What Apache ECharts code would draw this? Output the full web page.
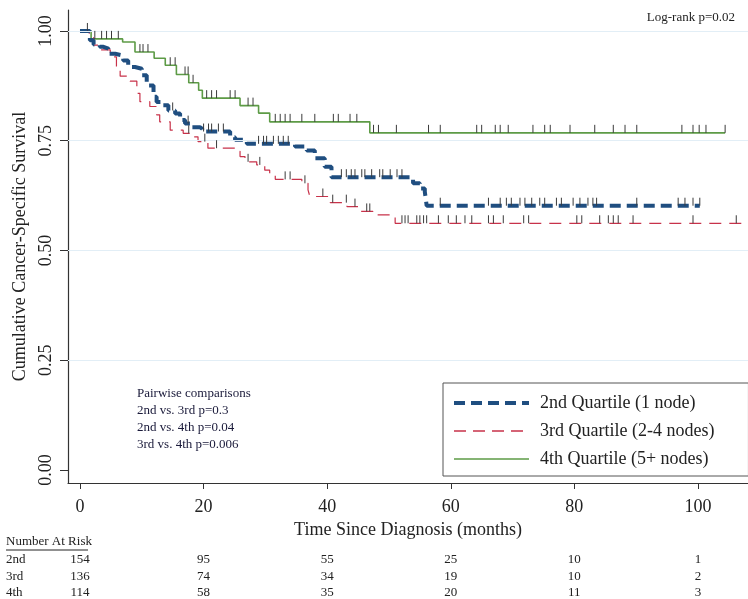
<!DOCTYPE html>
<html>
<head>
<meta charset="utf-8">
<script src="https://cdn.jsdelivr.net/npm/echarts@6/dist/echarts.min.js"></script>
<style>
  html, body { margin: 0; padding: 0; background: #fff; }
  #kmChart { width: 748px; height: 599px; }
</style>
</head>
<body>
<div id="kmChart"></div>
<script>
// step times (months) and survival after each step, last entry = end of follow-up
const q2Times = [0, 1.6, 2.2, 3.2, 3.8, 4.6, 5.7, 7.0, 7.8, 8.9, 10.0, 10.8, 11.9, 12.4, 13.2, 14.3, 15.4, 16.2, 17.0, 17.8, 19.4, 19.8, 24.3, 25.1, 27.0, 34.8, 36.7, 38.0, 39.6, 40.7, 53.9, 55.0, 55.8, 56.1, 100.3];
const q2Surv = [1, 0.979, 0.969, 0.964, 0.960, 0.948, 0.944, 0.933, 0.918, 0.914, 0.899, 0.876, 0.850, 0.838, 0.831, 0.819, 0.812, 0.797, 0.789, 0.781, 0.777, 0.771, 0.758, 0.752, 0.743, 0.737, 0.728, 0.710, 0.691, 0.667, 0.653, 0.641, 0.634, 0.602, 0.602];
const q3Times = [0, 1.5, 2.2, 3.2, 4.9, 5.9, 6.5, 8.1, 9.2, 9.7, 11.3, 12.4, 12.9, 14.6, 16.7, 17.8, 19.1, 20.7, 25.1, 25.9, 26.7, 28.6, 29.9, 30.7, 31.6, 35.9, 36.9, 37.2, 40.5, 43.2, 45.3, 47.4, 51.0, 107.6];
const q3Surv = [1, 0.985, 0.968, 0.957, 0.941, 0.915, 0.897, 0.886, 0.858, 0.839, 0.828, 0.809, 0.793, 0.774, 0.767, 0.759, 0.748, 0.733, 0.726, 0.714, 0.702, 0.695, 0.683, 0.672, 0.662, 0.653, 0.638, 0.623, 0.609, 0.600, 0.589, 0.581, 0.562, 0.562];
const q4Times = [0, 1.8, 6.9, 8.9, 12.0, 13.8, 15.6, 17.6, 19.2, 19.8, 25.9, 28.9, 30.7, 46.9, 104.4];
const q4Surv = [1, 0.982, 0.975, 0.952, 0.938, 0.922, 0.901, 0.882, 0.865, 0.847, 0.830, 0.813, 0.793, 0.768, 0.768];

// censoring times
const q2Censor = [15.0, 17.5, 20.0, 20.8, 21.3, 22.4, 23.2, 28.9, 29.7, 30.2, 31.3, 32.1, 32.9, 33.7, 42.3, 43.1, 43.9, 44.5, 45.6, 46.1, 47.2, 48.5, 49.0, 50.2, 51.3, 52.1, 58.3, 66.1, 68.0, 69.0, 69.8, 71.2, 72.0, 73.1, 74.4, 75.2, 77.1, 77.9, 79.8, 80.9, 82.2, 83.0, 83.6, 90.1, 96.8, 97.9, 99.2, 100.3];
const q3Censor = [17.6, 20.2, 22.1, 27.2, 29.1, 33.2, 34.0, 36.4, 39.3, 40.9, 43.1, 44.5, 46.4, 46.9, 52.1, 52.6, 53.1, 54.5, 55.0, 55.6, 56.1, 58.0, 59.6, 60.9, 62.3, 63.4, 66.1, 66.9, 68.5, 71.8, 72.6, 80.4, 81.2, 84.1, 85.5, 86.3, 87.1, 89.5, 99.2, 106.2];
const q4Censor = [1.2, 2.4, 3.5, 4.3, 5.1, 6.2, 9.7, 10.2, 11.0, 14.6, 15.4, 17.0, 17.5, 18.3, 20.5, 21.3, 22.1, 24.3, 25.1, 27.2, 28.0, 31.6, 32.4, 33.2, 34.0, 35.9, 38.0, 41.0, 41.8, 43.7, 44.8, 47.5, 48.3, 51.2, 56.4, 58.3, 64.2, 65.0, 67.2, 68.0, 69.3, 73.3, 75.2, 76.1, 79.3, 83.3, 86.3, 88.2, 90.1, 97.4, 99.2, 100.2, 101.3, 104.4];

const seriesNames = ["2nd Quartile (1 node)", "3rd Quartile (2-4 nodes)", "4th Quartile (5+ nodes)"];
const xTicks = [0, 20, 40, 60, 80, 100];
const yTicks = [0, 0.25, 0.5, 0.75, 1];

// number at risk table
const riskMonths = [0, 20, 40, 60, 80, 100];
const riskLabels = ["2nd", "3rd", "4th"];
const riskQ2 = [154, 95, 55, 25, 10, 1];
const riskQ3 = [136, 74, 34, 19, 10, 2];
const riskQ4 = [114, 58, 35, 20, 11, 3];

const pairwiseLines = ["Pairwise comparisons", "2nd vs. 3rd p=0.3", "2nd vs. 4th p=0.04", "3rd vs. 4th p=0.006"];

const serif = '"Liberation Serif", "DejaVu Serif", serif';
const q2Color = "#1f4e80";
const q3Color = "#c8324a";
const q4Color = "#5d9b46";

function toSteps(times, surv) {
  return times.map((t, i) => [t, surv[i]]);
}
function survAt(times, surv, t) {
  let v = surv[0];
  for (let i = 0; i < times.length; i++) {
    if (times[i] <= t) v = surv[i];
  }
  return v;
}
function censorData(cens, times, surv) {
  return cens.map(t => [t, survAt(times, surv, t)]);
}
function censorSeries(data) {
  return {
    type: "custom",
    data: data,
    z: 5,
    silent: true,
    renderItem: function (params, api) {
      let p = api.coord([api.value(0), api.value(1)]);
      return {
        type: "line",
        shape: { x1: p[0], y1: p[1], x2: p[0], y2: p[1] - 8 },
        style: { stroke: "#3a3a3a", lineWidth: 1 }
      };
    }
  };
}

let kmChart = echarts.init(document.getElementById("kmChart"));
kmChart.setOption({
  backgroundColor: "#fff",
  animation: false,
  grid: { left: 68, right: 0, top: 10, bottom: 116 },
  legend: {
    data: [
      { name: seriesNames[0], lineStyle: { width: 4, type: [11, 6], color: q2Color } },
      { name: seriesNames[1], lineStyle: { width: 1.5, type: [12, 7], color: q3Color } },
      { name: seriesNames[2], lineStyle: { width: 1.6, type: "solid", color: q4Color } }
    ],
    orient: "vertical",
    left: 443,
    top: 383,
    padding: [11, 34, 8, 9],
    itemWidth: 75,
    itemHeight: 14,
    itemGap: 10,
    borderColor: "#555",
    borderWidth: 1,
    backgroundColor: "#fff",
    selectedMode: false,
    itemStyle: { opacity: 0 },
    textStyle: { fontFamily: serif, fontSize: 18, color: "#222", padding: [0, 0, 0, 6] }
  },
  xAxis: {
    type: "value",
    min: -1.94,
    max: 108.1,
    name: "Time Since Diagnosis (months)",
    nameLocation: "middle",
    nameGap: 33,
    nameTextStyle: { fontFamily: serif, fontSize: 18, color: "#222" },
    axisLine: { show: true, onZero: false, lineStyle: { color: "#333", width: 1.2 } },
    axisTick: { show: true, length: 6, customValues: xTicks, lineStyle: { color: "#333" } },
    axisLabel: { customValues: xTicks, margin: 15, fontFamily: serif, fontSize: 18, color: "#222" },
    splitLine: { show: false }
  },
  yAxis: {
    type: "value",
    min: -0.0296,
    max: 1.0478,
    name: "Cumulative Cancer-Specific Survival",
    nameLocation: "middle",
    nameGap: 35,
    nameTextStyle: { fontFamily: serif, fontSize: 18, color: "#222" },
    axisLine: { show: true, onZero: false, lineStyle: { color: "#333", width: 1.2 } },
    axisTick: { show: true, length: 8, customValues: yTicks, lineStyle: { color: "#333" } },
    axisLabel: {
      customValues: yTicks,
      rotate: 90,
      margin: 13,
      fontFamily: serif,
      fontSize: 18,
      color: "#222",
      formatter: v => v.toFixed(2)
    },
    splitLine: { show: false }
  },
  series: [
    {
      name: seriesNames[2],
      type: "line",
      step: "end",
      symbol: "none",
      z: 2,
      data: toSteps(q4Times, q4Surv),
      color: q4Color,
      lineStyle: { color: q4Color, width: 1.6, type: "solid" },
      markLine: {
        silent: true,
        symbol: "none",
        label: { show: false },
        lineStyle: { color: "#e2eef6", width: 1, type: "solid" },
        data: yTicks.filter(v => v > 0).map(v => ({ yAxis: v }))
      }
    },
    {
      name: seriesNames[1],
      type: "line",
      step: "end",
      symbol: "none",
      z: 3,
      data: toSteps(q3Times, q3Surv),
      color: q3Color,
      lineStyle: { color: q3Color, width: 1.2, type: [12, 8] }
    },
    {
      name: seriesNames[0],
      type: "line",
      step: "end",
      symbol: "none",
      z: 4,
      data: toSteps(q2Times, q2Surv),
      color: q2Color,
      lineStyle: { color: q2Color, width: 4, type: [11, 6] }
    },
    censorSeries(censorData(q4Censor, q4Times, q4Surv)),
    censorSeries(censorData(q3Censor, q3Times, q3Surv)),
    censorSeries(censorData(q2Censor, q2Times, q2Surv))
  ]
});

// texts: log-rank, pairwise comparisons, number at risk table
let graphics = [];
graphics.push({
  type: "text",
  x: 735,
  y: 18,
  style: { text: "Log-rank p=0.02", fontFamily: serif, fontSize: 13, fill: "#222", textAlign: "right", textVerticalAlign: "middle" }
});
pairwiseLines.forEach((line, i) => {
  graphics.push({
    type: "text",
    x: 137,
    y: 394 + i * 17,
    style: { text: line, fontFamily: serif, fontSize: 13, fill: "#1a1a3a", textAlign: "left", textVerticalAlign: "middle" }
  });
});
graphics.push({
  type: "text",
  x: 6,
  y: 542,
  style: { text: "Number At Risk", fontFamily: serif, fontSize: 13, fill: "#222", textAlign: "left", textVerticalAlign: "middle" }
});
graphics.push({
  type: "line",
  shape: { x1: 6, y1: 550, x2: 88, y2: 550 },
  style: { stroke: "#222", lineWidth: 1 }
});
[riskQ2, riskQ3, riskQ4].forEach((row, r) => {
  let y = 560 + r * 16.5;
  graphics.push({
    type: "text",
    x: 6,
    y: y,
    style: { text: riskLabels[r], fontFamily: serif, fontSize: 13, fill: "#222", textAlign: "left", textVerticalAlign: "middle" }
  });
  row.forEach((n, i) => {
    let x = kmChart.convertToPixel({ xAxisIndex: 0 }, riskMonths[i]);
    graphics.push({
      type: "text",
      x: x,
      y: y,
      style: { text: String(n), fontFamily: serif, fontSize: 13, fill: "#222", textAlign: "center", textVerticalAlign: "middle" }
    });
  });
});
kmChart.setOption({ graphic: graphics });
</script>
</body>
</html>
